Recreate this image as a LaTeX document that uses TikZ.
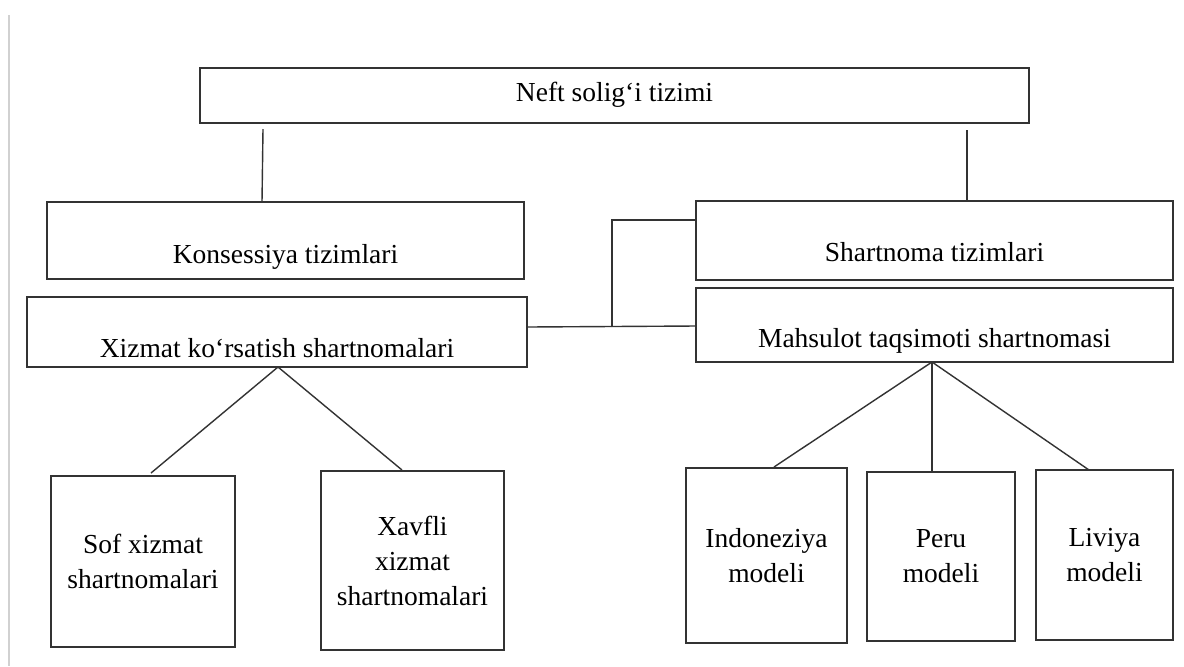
\documentclass[tikz,border=0pt]{standalone}
\usepackage{fontspec}
\setmainfont{Liberation Serif}
\usetikzlibrary{calc}
\begin{document}
\begin{tikzpicture}[x=0.5pt,y=-0.5pt,
  box/.style={draw=black!80, line width=0.9pt, inner sep=0pt, outer sep=0pt, anchor=north west,
    font=\fontsize{13.75}{17.5}\selectfont},
  mbox/.style={box, align=center},
  conn/.style={draw=black!80, line width=0.7pt}]
\useasboundingbox[fill=white] (0,0) rectangle (1184,666);
\draw[black!18, line width=1.2pt] (9,15) -- (9,666);

% single-line boxes
\node[box, minimum width=414.5pt, text height=16.5pt, text depth=11pt] (top) at (200,68) {Neft solig‘i tizimi};
\node[box, minimum width=238.5pt, text height=30.5pt, text depth=8pt] (kon) at (47,202) {Konsessiya tizimlari};
\node[box, minimum width=238.5pt, text height=30pt, text depth=9.5pt] (shart) at (696,201) {Shartnoma tizimlari};
\node[box, minimum width=250pt, text height=30pt, text depth=5pt] (xiz) at (27,297) {Xizmat ko‘rsatish shartnomalari};
\node[box, minimum width=238.5pt, text height=29.5pt, text depth=7.5pt] (mah) at (696,288) {Mahsulot taqsimoti shartnomasi};

% multi-line boxes
\node[mbox, minimum width=92pt, minimum height=85.5pt] (sof) at (51,476) {Sof xizmat\\shartnomalari};
\node[mbox, minimum width=91.5pt, minimum height=89.5pt] (xav) at (321,471) {Xavfli\\xizmat\\shartnomalari};
\node[mbox, minimum width=80.5pt, minimum height=87.5pt] (ind) at (686,468) {Indoneziya\\modeli};
\node[mbox, minimum width=74pt, minimum height=84.5pt] (peru) at (867,472) {Peru\\modeli};
\node[mbox, minimum width=68.5pt, minimum height=85pt] (liv) at (1036,470) {Liviya\\modeli};

% connectors
\draw[conn] ($(top.south west)+(63,6)$) -- ($(kon.north west)+(215,0)$);
\draw[conn] ($(top.south west)+(767,7)$) -- ($(shart.north west)+(271,0)$);
\coordinate (j) at ($(xiz.north east)+(85,30)$);
\draw[conn] ($(xiz.north east)+(0,30)$) -- ($(mah.north west)+(0,38)$);
\draw[conn] (j) |- ($(shart.north west)+(0,19)$);
\coordinate (xa) at ($(xiz.south west)+(251,0)$);
\draw[conn] (xa) -- ($(sof.north west)+(100,-3)$);
\draw[conn] (xa) -- ($(xav.north west)+(81,-1)$);
\coordinate (ma) at ($(mah.south west)+(236,0)$);
\draw[conn] (ma) -- ($(ind.north west)+(88,-1)$);
\draw[conn] (ma) -- ($(peru.north west)+(65,0)$);
\draw[conn] (ma) -- ($(liv.north west)+(53,0)$);
\end{tikzpicture}
\end{document}
